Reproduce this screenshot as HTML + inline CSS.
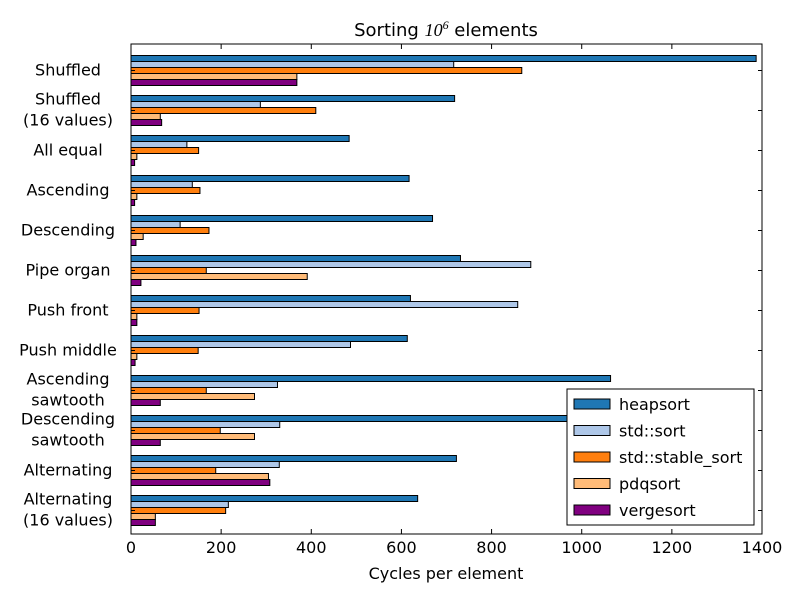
<!DOCTYPE html>
<html><head><meta charset="utf-8"><style>
html,body{margin:0;padding:0;background:#fff;}
svg{display:block;font-family:"DejaVu Sans","Liberation Sans",sans-serif;}
</style></head><body>
<svg id="chart" width="800" height="597" viewBox="0 0 800 597" xmlns="http://www.w3.org/2000/svg">
<rect x="0" y="0" width="800" height="597" fill="#fff"/>
<text x="446" y="36" text-anchor="middle" font-size="18">Sorting <tspan font-style="italic" font-family="Liberation Serif, serif">10</tspan><tspan font-size="12" dy="-7" font-style="italic" font-family="Liberation Serif, serif">6</tspan><tspan dy="7">  elements</tspan></text>
<g id="bars"></g>
<rect x="131" y="44" width="631" height="490" fill="none" stroke="#000" stroke-width="1"/>
<g id="ticks"></g>
<text x="446" y="579" text-anchor="middle" font-size="16">Cycles per element</text>
<g id="legend"></g>
</svg>
<script>
const categories = [["Shuffled"],["Shuffled","(16 values)"],["All equal"],["Ascending"],["Descending"],["Pipe organ"],["Push front"],["Push middle"],["Ascending","sawtooth"],["Descending","sawtooth"],["Alternating"],["Alternating","(16 values)"]];
const seriesNames = ["heapsort","std::sort","std::stable_sort","pdqsort","vergesort"];
const heapsort = [1387,718,484,617,669,731,620,613,1064,1050,722,636];
const stdSort = [716,287,124,136,109,887,858,487,325,330,329,216];
const stableSort = [867,410,150,153,173,167,151,149,167,198,188,210];
const pdqsort = [368,65,13,13,27,391,13,13,274,274,305,54];
const vergesort = [368,68,8,8,11,22,13,9,65,65,308,54];
const xTicks = [0,200,400,600,800,1000,1200,1400];
const colors = ["#1f77b4","#aec7e8","#ff7f0e","#ffbb78","#800080"];
const series = [heapsort,stdSort,stableSort,pdqsort,vergesort];
const NS="http://www.w3.org/2000/svg";
const X0=131,X1=762,XMAX=1400;
function xs(v){return X0+(v/XMAX)*(X1-X0);}
const GTOP=55.5,GSTEP=40,BH=6;
function ys(i,s){return GTOP+GSTEP*i+BH*s;}
function el(t,a,p){const e=document.createElementNS(NS,t);for(const k in a)e.setAttribute(k,a[k]);p.appendChild(e);return e;}
const bars=document.getElementById('bars');
series.forEach((arr,s)=>{arr.forEach((v,i)=>{
  const r=el('rect',{x:X0,y:ys(i,s),width:xs(v)-X0,height:BH,fill:colors[s],stroke:'#000','stroke-width':1},bars);
  
  
});});
const tk=document.getElementById('ticks');
xTicks.forEach(t=>{
  const x=xs(t);
  el('line',{x1:x,y1:534,x2:x,y2:529,stroke:'#000'},tk);
  el('line',{x1:x,y1:44,x2:x,y2:49,stroke:'#000'},tk);
  const lb=el('text',{x:x,y:553,'text-anchor':'middle','font-size':16},tk);
  lb.textContent=t;
  
  
});
categories.forEach((c,i)=>{
  const cy=GTOP+GSTEP*i+15;
  el('line',{x1:X0,y1:cy,x2:X0+4,y2:cy,stroke:'#000'},tk);
  el('line',{x1:X1,y1:cy,x2:X1-4,y2:cy,stroke:'#000'},tk);
  const lb=el('text',{x:68,'text-anchor':'middle','font-size':16},tk);
  
  
  if(c.length===1){lb.setAttribute('y',cy+5);lb.textContent=c[0];}
  else{const t1=el('tspan',{x:68,y:cy-6},lb);t1.textContent=c[0];const t2=el('tspan',{x:68,y:cy+15},lb);t2.textContent=c[1];}
});
const lg=document.getElementById('legend');
el('rect',{x:567,y:389,width:187,height:136,fill:'#fff',stroke:'#000'},lg);
seriesNames.forEach((n,s)=>{
  const y=404+26.5*s;
  const p=el('rect',{x:574,y:y-5,width:36,height:10,fill:colors[s],stroke:'#000'},lg);
  
  
  const t=el('text',{x:619,y:y+6,'font-size':16},lg);
  t.textContent=n;
  
  
});
</script>
</body></html>
